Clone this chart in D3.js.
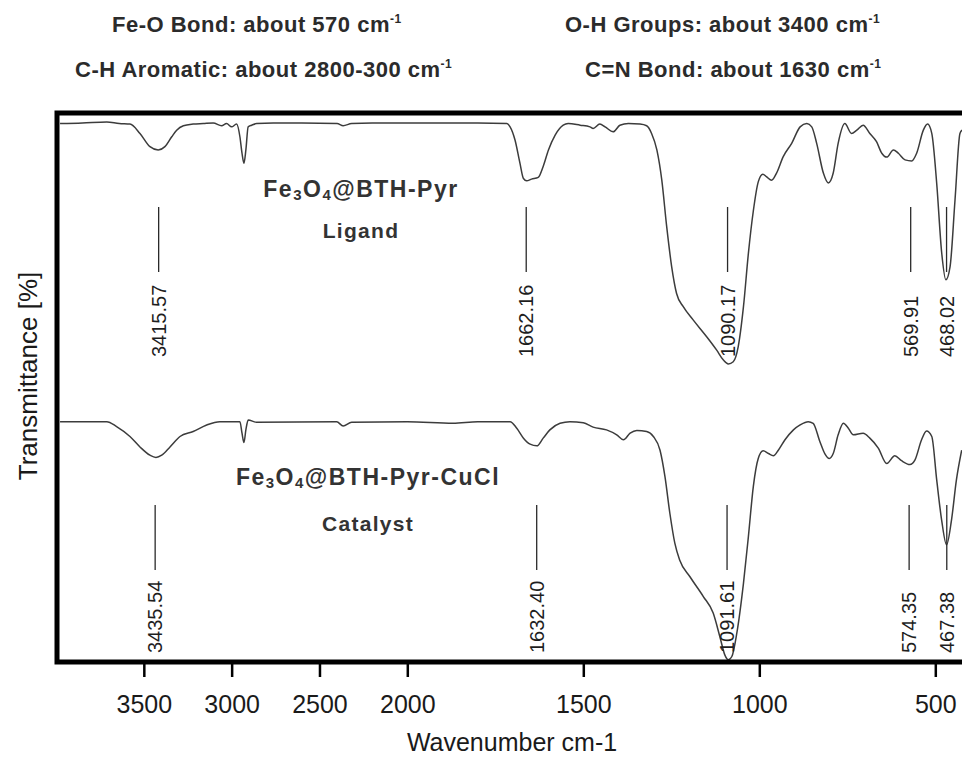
<!DOCTYPE html>
<html>
<head>
<meta charset="utf-8">
<script src="https://cdn.jsdelivr.net/npm/d3@7"></script>
<style>
  body { margin: 0; background: #fff; }
  svg { display: block; font-family: "Liberation Sans", Arial, sans-serif; }
</style>
</head>
<body>
<div id="viz"></div>
<script>
const width = 962;
const height = 758;

// notes printed above the frame
const bandNotes = ['Fe-O Bond: about 570', 'C-H Aromatic: about 2800-300', 'O-H Groups: about 3400', 'C=N Bond: about 1630'];

const xTicks = [3500, 3000, 2500, 2000, 1500, 1000, 500];

// [wavenumber, transmittance %]
const ligandSpectrum = [
  [3977, 97.9], [3850, 98.0], [3711, 98.2], [3640, 97.9], [3579, 97.8], [3522, 96.1], [3465, 93.7],
  [3418, 93.1], [3380, 93.7], [3341, 95.5], [3313, 96.7], [3275, 97.5], [3219, 97.8], [3162, 97.9],
  [3105, 98.0], [3057, 97.5], [3029, 97.9], [3000, 97.3], [2972, 97.8], [2953, 95.5], [2941, 92.5],
  [2930, 90.7], [2919, 93.1], [2906, 97.3], [2886, 97.6], [2858, 97.9], [2763, 98.0], [2600, 98.0],
  [2400, 97.9], [2365, 97.5], [2317, 97.9], [2200, 98.0], [2000, 98.0], [1800, 98.0], [1717, 97.9],
  [1708, 97.3], [1694, 94.9], [1680, 90.7], [1670, 87.9], [1661, 87.5], [1647, 87.8], [1628, 88.1],
  [1614, 90.1], [1599, 93.1], [1580, 95.8], [1557, 97.6], [1543, 97.9], [1509, 97.6], [1481, 97.3],
  [1472, 97.0], [1453, 97.8], [1438, 97.3], [1415, 96.4], [1396, 97.6], [1372, 97.9], [1339, 97.8],
  [1320, 97.5], [1306, 96.1], [1291, 93.1], [1277, 87.6], [1263, 79.1], [1249, 71.9], [1235, 67.0],
  [1216, 64.6], [1188, 62.2], [1149, 59.1], [1121, 56.7], [1102, 54.9], [1088, 54.2], [1074, 54.6],
  [1060, 57.3], [1045, 64.6], [1031, 74.3], [1017, 82.0], [1003, 87.3], [990, 88.7], [979, 88.2],
  [965, 87.6], [951, 88.9], [932, 91.9], [908, 94.3], [884, 97.3], [865, 97.9], [851, 97.3],
  [837, 94.3], [818, 88.9], [804, 87.1], [790, 88.9], [776, 94.3], [757, 97.9], [738, 96.1],
  [723, 96.7], [705, 97.6], [686, 96.1], [667, 94.6], [652, 92.5], [638, 91.8], [619, 93.1],
  [605, 92.5], [586, 91.3], [567, 91.1], [553, 92.5], [534, 96.7], [522, 97.8], [510, 96.1],
  [496, 87.0], [482, 74.5], [470, 69.5], [458, 71.9], [444, 84.0], [430, 96.1], [424, 96.7]
];

const catalystSpectrum = [
  [3977, 43.7], [3711, 43.7], [3655, 42.8], [3579, 41.0], [3522, 39.1], [3465, 37.6], [3431, 37.2],
  [3398, 37.6], [3351, 39.1], [3294, 41.0], [3219, 41.9], [3142, 43.1], [3067, 43.7], [2953, 43.7],
  [2941, 41.6], [2930, 39.9], [2919, 42.2], [2906, 44.0], [2858, 43.6], [2402, 43.7], [2365, 42.9],
  [2317, 43.6], [2000, 43.7], [1870, 43.4], [1800, 43.7], [1708, 43.7], [1689, 42.5], [1670, 40.7],
  [1651, 39.6], [1632, 39.3], [1614, 40.7], [1595, 42.2], [1566, 43.4], [1538, 43.7], [1500, 43.5],
  [1472, 42.7], [1434, 42.2], [1405, 41.3], [1386, 40.4], [1367, 41.6], [1348, 42.1], [1320, 41.9],
  [1301, 41.0], [1282, 38.5], [1268, 33.7], [1254, 27.0], [1240, 21.6], [1226, 18.5], [1197, 15.5],
  [1159, 11.9], [1131, 8.9], [1112, 4.6], [1098, 1.3], [1088, 0.4], [1078, 1.0], [1064, 5.2],
  [1045, 14.3], [1031, 22.8], [1017, 31.9], [1003, 37.0], [989, 38.4], [974, 37.9], [960, 37.5],
  [946, 38.5], [927, 40.4], [903, 42.2], [884, 43.1], [861, 43.7], [847, 43.4], [828, 40.1],
  [814, 37.9], [801, 37.0], [790, 37.9], [776, 41.3], [761, 43.4], [747, 42.5], [733, 41.3],
  [705, 41.6], [686, 40.7], [662, 38.9], [638, 36.1], [615, 37.5], [596, 36.6], [572, 35.9],
  [558, 36.7], [539, 40.4], [525, 42.0], [510, 41.0], [496, 33.1], [482, 25.8], [468, 21.3],
  [454, 25.8], [440, 33.1], [425, 38.5]
];

const ligandPeaks = [3415.57, 1662.16, 1090.17, 569.91, 468.02];
const catalystPeaks = [3435.54, 1632.40, 1091.61, 574.35, 467.38];

const sampleNames = ['@BTH-Pyr', '@BTH-Pyr-CuCl'];
const sampleRoles = ['Ligand', 'Catalyst'];

const svg = d3.select('#viz')
  .append('svg')
  .attr('width', width)
  .attr('height', height)

// x axis breaks at 2000 cm-1 (two scales like the instrument software)
const x = d3.scaleLinear().domain([4000, 2000, 400]).range([56, 407.3, 970.5])
const y = d3.scaleLinear().domain([0, 100]).range([662, 112])

svg.append('defs').append('clipPath').attr('id', 'plot')
  .append('rect').attr('x', 58).attr('y', 114).attr('width', 920).attr('height', 547)

// spectra
const line = d3.line().x(d => x(d[0])).y(d => y(d[1])).curve(d3.curveMonotoneX)

svg.append('g').attr('clip-path', 'url(#plot)')
  .selectAll('path')
  .data([ligandSpectrum, catalystSpectrum])
  .join('path')
  .attr('d', line)
  .attr('fill', 'none')
  .attr('stroke', '#3c3c3c')
  .attr('stroke-width', 1.5)

// peak markers
const peakSets = [
  { peaks: ligandPeaks, lineTop: 207, lineBottom: 272, textBottom: 357 },
  { peaks: catalystPeaks, lineTop: 505, lineBottom: 570, textBottom: 653 },
];

peakSets.forEach(set => {
  const g = svg.append('g')
  g.selectAll('line')
    .data(set.peaks)
    .join('line')
    .attr('x1', d => x(d)).attr('x2', d => x(d))
    .attr('y1', set.lineTop).attr('y2', set.lineBottom)
    .attr('stroke', '#2a2a2a')
    .attr('stroke-width', 1.3)

  g.selectAll('text')
    .data(set.peaks)
    .join('text')
    .attr('transform', d => `translate(${x(d)},${set.textBottom}) rotate(-90)`)
    .attr('dy', '0.36em')
    .attr('font-size', 20)
    .attr('fill', '#1e1e1e')
    .text(d => d.toFixed(2))
})

// frame
svg.append('rect')
  .attr('x', 57).attr('y', 113)
  .attr('width', 930).attr('height', 549)
  .attr('fill', 'none')
  .attr('stroke', '#000')
  .attr('stroke-width', 5)

// x axis
const xAxis = svg.append('g')
  .attr('transform', 'translate(0,664)')
  .call(d3.axisBottom(x).tickValues(xTicks).tickSize(13).tickPadding(18).tickFormat(d3.format('d')))

xAxis.select('.domain').remove()
xAxis.selectAll('.tick line').attr('stroke', '#000').attr('stroke-width', 2.5)
xAxis.selectAll('.tick text')
  .attr('font-size', 25)
  .attr('font-family', '"Liberation Sans", Arial, sans-serif')
  .attr('fill', '#1a1a1a')

svg.append('text')
  .attr('x', 512).attr('y', 751)
  .attr('text-anchor', 'middle')
  .attr('font-size', 25)
  .attr('fill', '#1a1a1a')
  .text('Wavenumber cm-1')

svg.append('text')
  .attr('transform', 'translate(37,376) rotate(-90)')
  .attr('text-anchor', 'middle')
  .attr('font-size', 26)
  .attr('fill', '#1a1a1a')
  .text('Transmittance [%]')

// band notes
const notePos = [[112, 32], [75, 77], [565, 32], [585, 77]];
bandNotes.forEach((note, i) => {
  const t = svg.append('text')
    .attr('x', notePos[i][0]).attr('y', notePos[i][1])
    .attr('font-size', 22)
    .attr('font-weight', 'bold')
    .attr('letter-spacing', 0.5)
    .attr('fill', '#2b2b2b')
    .text(note + ' cm')
  t.append('tspan').attr('font-size', 12).attr('dy', -9).text('-1')
})

// sample names
const namePos = [[361, 197, 238], [368, 485, 531]];
sampleNames.forEach((name, i) => {
  const t = svg.append('text')
    .attr('x', namePos[i][0]).attr('y', namePos[i][1])
    .attr('text-anchor', 'middle')
    .attr('font-size', 23)
    .attr('font-weight', 'bold')
    .attr('letter-spacing', 1.5)
    .attr('fill', '#333')
  t.append('tspan').text('Fe')
  t.append('tspan').attr('font-size', 15).attr('dy', 3).text('3')
  t.append('tspan').attr('dy', -3).text('O')
  t.append('tspan').attr('font-size', 15).attr('dy', 3).text('4')
  t.append('tspan').attr('dy', -3).text(name)

  svg.append('text')
    .attr('x', namePos[i][0]).attr('y', namePos[i][2])
    .attr('text-anchor', 'middle')
    .attr('font-size', 21)
    .attr('font-weight', 'bold')
    .attr('letter-spacing', 1.3)
    .attr('fill', '#333')
    .text(sampleRoles[i])
})
</script>
</body>
</html>
